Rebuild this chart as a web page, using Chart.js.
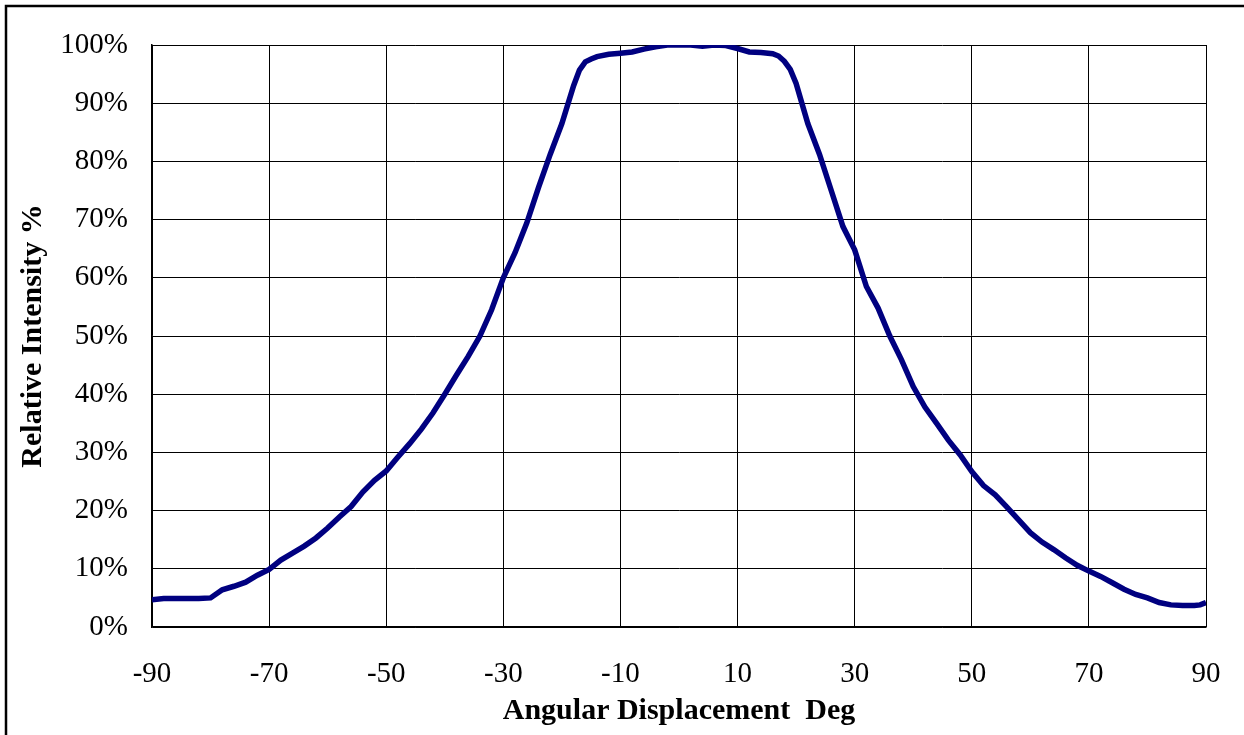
<!DOCTYPE html>
<html>
<head>
<meta charset="utf-8">
<script src="https://cdn.jsdelivr.net/npm/chart.js@4/dist/chart.umd.min.js"></script>
<style>
  html, body { margin: 0; padding: 0; background: #fff; overflow: hidden; }
</style>
</head>
<body>
<canvas id="beamChart" width="1244" height="735"></canvas>
<script>
// angle (deg)
const angles = [-90, -88, -86, -84, -82, -80, -78, -76, -74, -72, -70, -68, -66, -64, -62, -60,
  -58, -56, -54, -52, -50, -48, -46, -44, -42, -40, -38, -36, -34, -32, -30, -28, -26, -24,
  -22, -20, -18, -17, -16, -15, -14, -12, -10, -8, -6, -4, -2, 0, 2, 4, 6, 8, 10, 12, 14,
  16, 17, 18, 19, 20, 22, 24, 26, 28, 30, 32, 34, 36, 38, 40, 42, 44, 46, 48, 50, 52, 54,
  56, 58, 60, 62, 64, 66, 68, 70, 72, 74, 76, 78, 80, 82, 84, 86, 88, 89, 90];

// relative intensity (%)
const intensity = [4.7, 4.9, 4.9, 4.9, 4.9, 5.0, 6.4, 7.0, 7.7, 8.9, 9.9, 11.5, 12.7, 13.9, 15.3, 17.0,
  18.9, 20.7, 23.2, 25.2, 26.8, 29.2, 31.5, 34.0, 36.8, 40.0, 43.3, 46.5, 50.0, 54.5, 60.0, 64.3, 69.4, 75.5,
  81.2, 86.5, 93.0, 95.7, 97.1, 97.6, 98.0, 98.4, 98.6, 98.8, 99.3, 99.7, 100, 100, 100, 99.8, 100, 99.9, 99.4, 98.8, 98.7,
  98.5, 98.1, 97.2, 95.8, 93.4, 86.5, 81.2, 75.0, 68.8, 64.8, 58.5, 54.8, 50.0, 45.9, 41.3, 37.8, 35.0, 32.1, 29.6, 26.7, 24.3, 22.7,
  20.6, 18.4, 16.2, 14.6, 13.3, 11.9, 10.6, 9.6, 8.7, 7.6, 6.5, 5.6, 5.0, 4.2, 3.8, 3.7, 3.7, 3.8, 4.2];

const xTicks = [-90, -70, -50, -30, -10, 10, 30, 50, 70, 90];
const yTicks = [0, 10, 20, 30, 40, 50, 60, 70, 80, 90, 100];

const points = angles.map((a, i) => ({ x: a, y: intensity[i] }));

// outer frame like the one round the original sheet chart
const frame = {
  id: 'frame',
  beforeDraw(chart) {
    const c = chart.ctx;
    c.save();
    c.fillStyle = '#fff';
    c.fillRect(0, 0, chart.width, chart.height);
    c.strokeStyle = '#000';
    c.lineWidth = 2.5;
    c.strokeRect(6, 6, 1400, 900);
    c.restore();
  }
};

const serif = '"Liberation Serif", "Times New Roman", serif';

new Chart(document.getElementById('beamChart').getContext('2d'), {
  type: 'line',
  data: {
    datasets: [{
      data: points,
      borderColor: '#000080',
      borderWidth: 5.5,
      pointRadius: 0,
      tension: 0,
      fill: false
    }]
  },
  options: {
    responsive: false,
    animation: false,
    layout: { padding: { top: 45, right: 38, left: 0, bottom: 0 } },
    plugins: { legend: { display: false }, tooltip: { enabled: false } },
    scales: {
      x: {
        type: 'linear',
        min: -90,
        max: 90,
        afterBuildTicks: s => { s.ticks = xTicks.map(v => ({ value: v })); },
        afterFit: s => { s.height = 108; },
        // invisible tick marks give the label gap without widening the side padding
        grid: { color: '#000', lineWidth: 1, drawTicks: true, tickLength: 30, tickColor: 'rgba(0,0,0,0)' },
        border: { color: '#000', width: 1.5 },
        ticks: { color: '#000', padding: 0, font: { family: serif, size: 29 } },
        title: {
          display: true,
          text: 'Angular Displacement  Deg',
          color: '#000',
          padding: { top: 0, bottom: 6 },
          font: { family: serif, size: 30, weight: 'bold' }
        }
      },
      y: {
        min: 0,
        max: 100,
        afterBuildTicks: s => { s.ticks = yTicks.map(v => ({ value: v })); },
        afterFit: s => { s.width = 152; },
        grid: { color: '#000', lineWidth: 1, drawTicks: false },
        border: { color: '#000', width: 1.5 },
        ticks: { color: '#000', padding: 24, font: { family: serif, size: 29 }, callback: v => v + '%' },
        title: {
          display: true,
          text: 'Relative Intensity %',
          color: '#000',
          padding: { top: 15, bottom: 0 },
          font: { family: serif, size: 30, weight: 'bold' }
        }
      }
    }
  },
  plugins: [frame]
});
</script>
</body>
</html>
